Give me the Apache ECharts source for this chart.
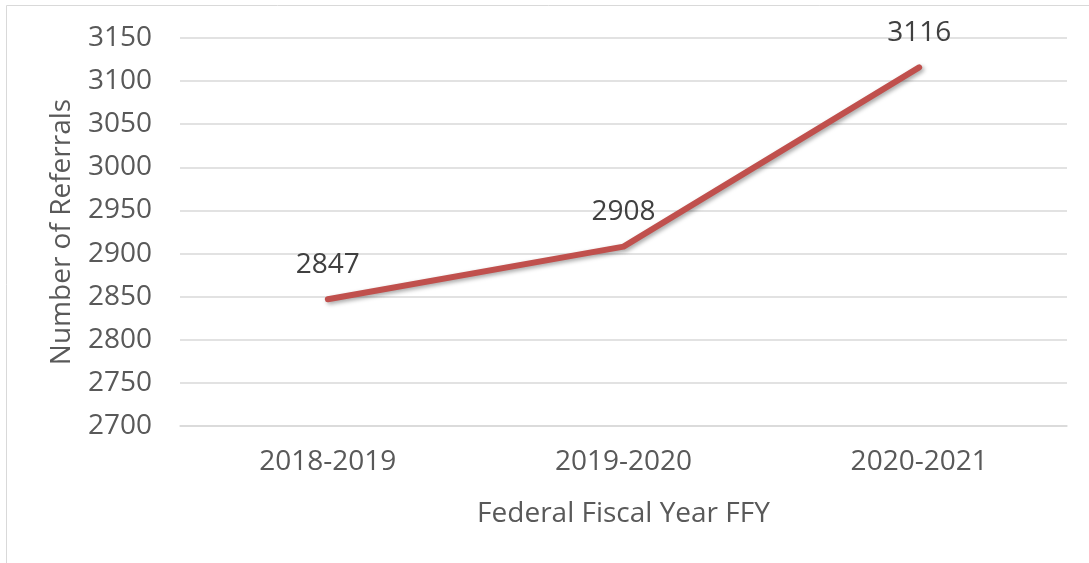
<!DOCTYPE html>
<html><head><meta charset="utf-8">
<script src="https://cdn.jsdelivr.net/npm/echarts@6/dist/echarts.min.js"></script>
<style>html,body{margin:0;padding:0;background:#fff}#c{width:1089px;height:563px}</style>
</head><body><div id="c"></div>
<script>
const categories = ['2018-2019', '2019-2020', '2020-2021'];
const referrals = [2847, 2908, 3116];
const yAxisTitle = 'Number of Referrals';
const xAxisTitle = 'Federal Fiscal Year FFY';

const FONT = '"Open Sans", sans-serif';
const chart = echarts.init(document.getElementById('c'));
chart.setOption({
  animation: false,
  graphic: [{
    type: 'rect', shape: { x: 6.5, y: 5.5, width: 1100, height: 600 },
    style: { fill: 'none', stroke: '#d9d9d9', lineWidth: 1 }, silent: true, z: -1
  }],
  grid: { left: 180, right: 22, top: 38, bottom: 137 },
  xAxis: {
    type: 'category', data: categories, boundaryGap: true,
    axisLine: { show: true, lineStyle: { color: '#d9d9d9', width: 1.5 } },
    axisTick: { show: false },
    axisLabel: { color: '#595959', fontFamily: FONT, fontSize: 28, margin: 22 },
    name: xAxisTitle, nameLocation: 'middle', nameGap: 74,
    nameTextStyle: { color: '#595959', fontFamily: FONT, fontSize: 28 }
  },
  yAxis: {
    type: 'value', min: 2700, max: 3150, interval: 50,
    axisLine: { show: false }, axisTick: { show: false },
    splitLine: { lineStyle: { color: '#d9d9d9', width: 1.5 } },
    axisLabel: { color: '#595959', fontFamily: FONT, fontSize: 28, margin: 28, formatter: v => String(v) },
    name: yAxisTitle, nameLocation: 'middle', nameGap: 104, nameRotate: 90,
    nameTextStyle: { color: '#595959', fontFamily: FONT, fontSize: 28 }
  },
  series: [{
    type: 'line', data: referrals, symbol: 'circle', symbolSize: 1, showSymbol: true,
    itemStyle: { color: 'rgba(0,0,0,0)' },
    lineStyle: { color: '#C0504D', width: 6, cap: 'round', join: 'round',
      shadowColor: 'rgba(0,0,0,0.35)', shadowBlur: 4, shadowOffsetX: 2, shadowOffsetY: 2 },
    label: { show: true, position: 'top', distance: 20, color: '#404040', fontFamily: FONT, fontSize: 28,
      formatter: p => String(p.value) },
    emphasis: { disabled: true }
  }]
});
</script></body></html>
